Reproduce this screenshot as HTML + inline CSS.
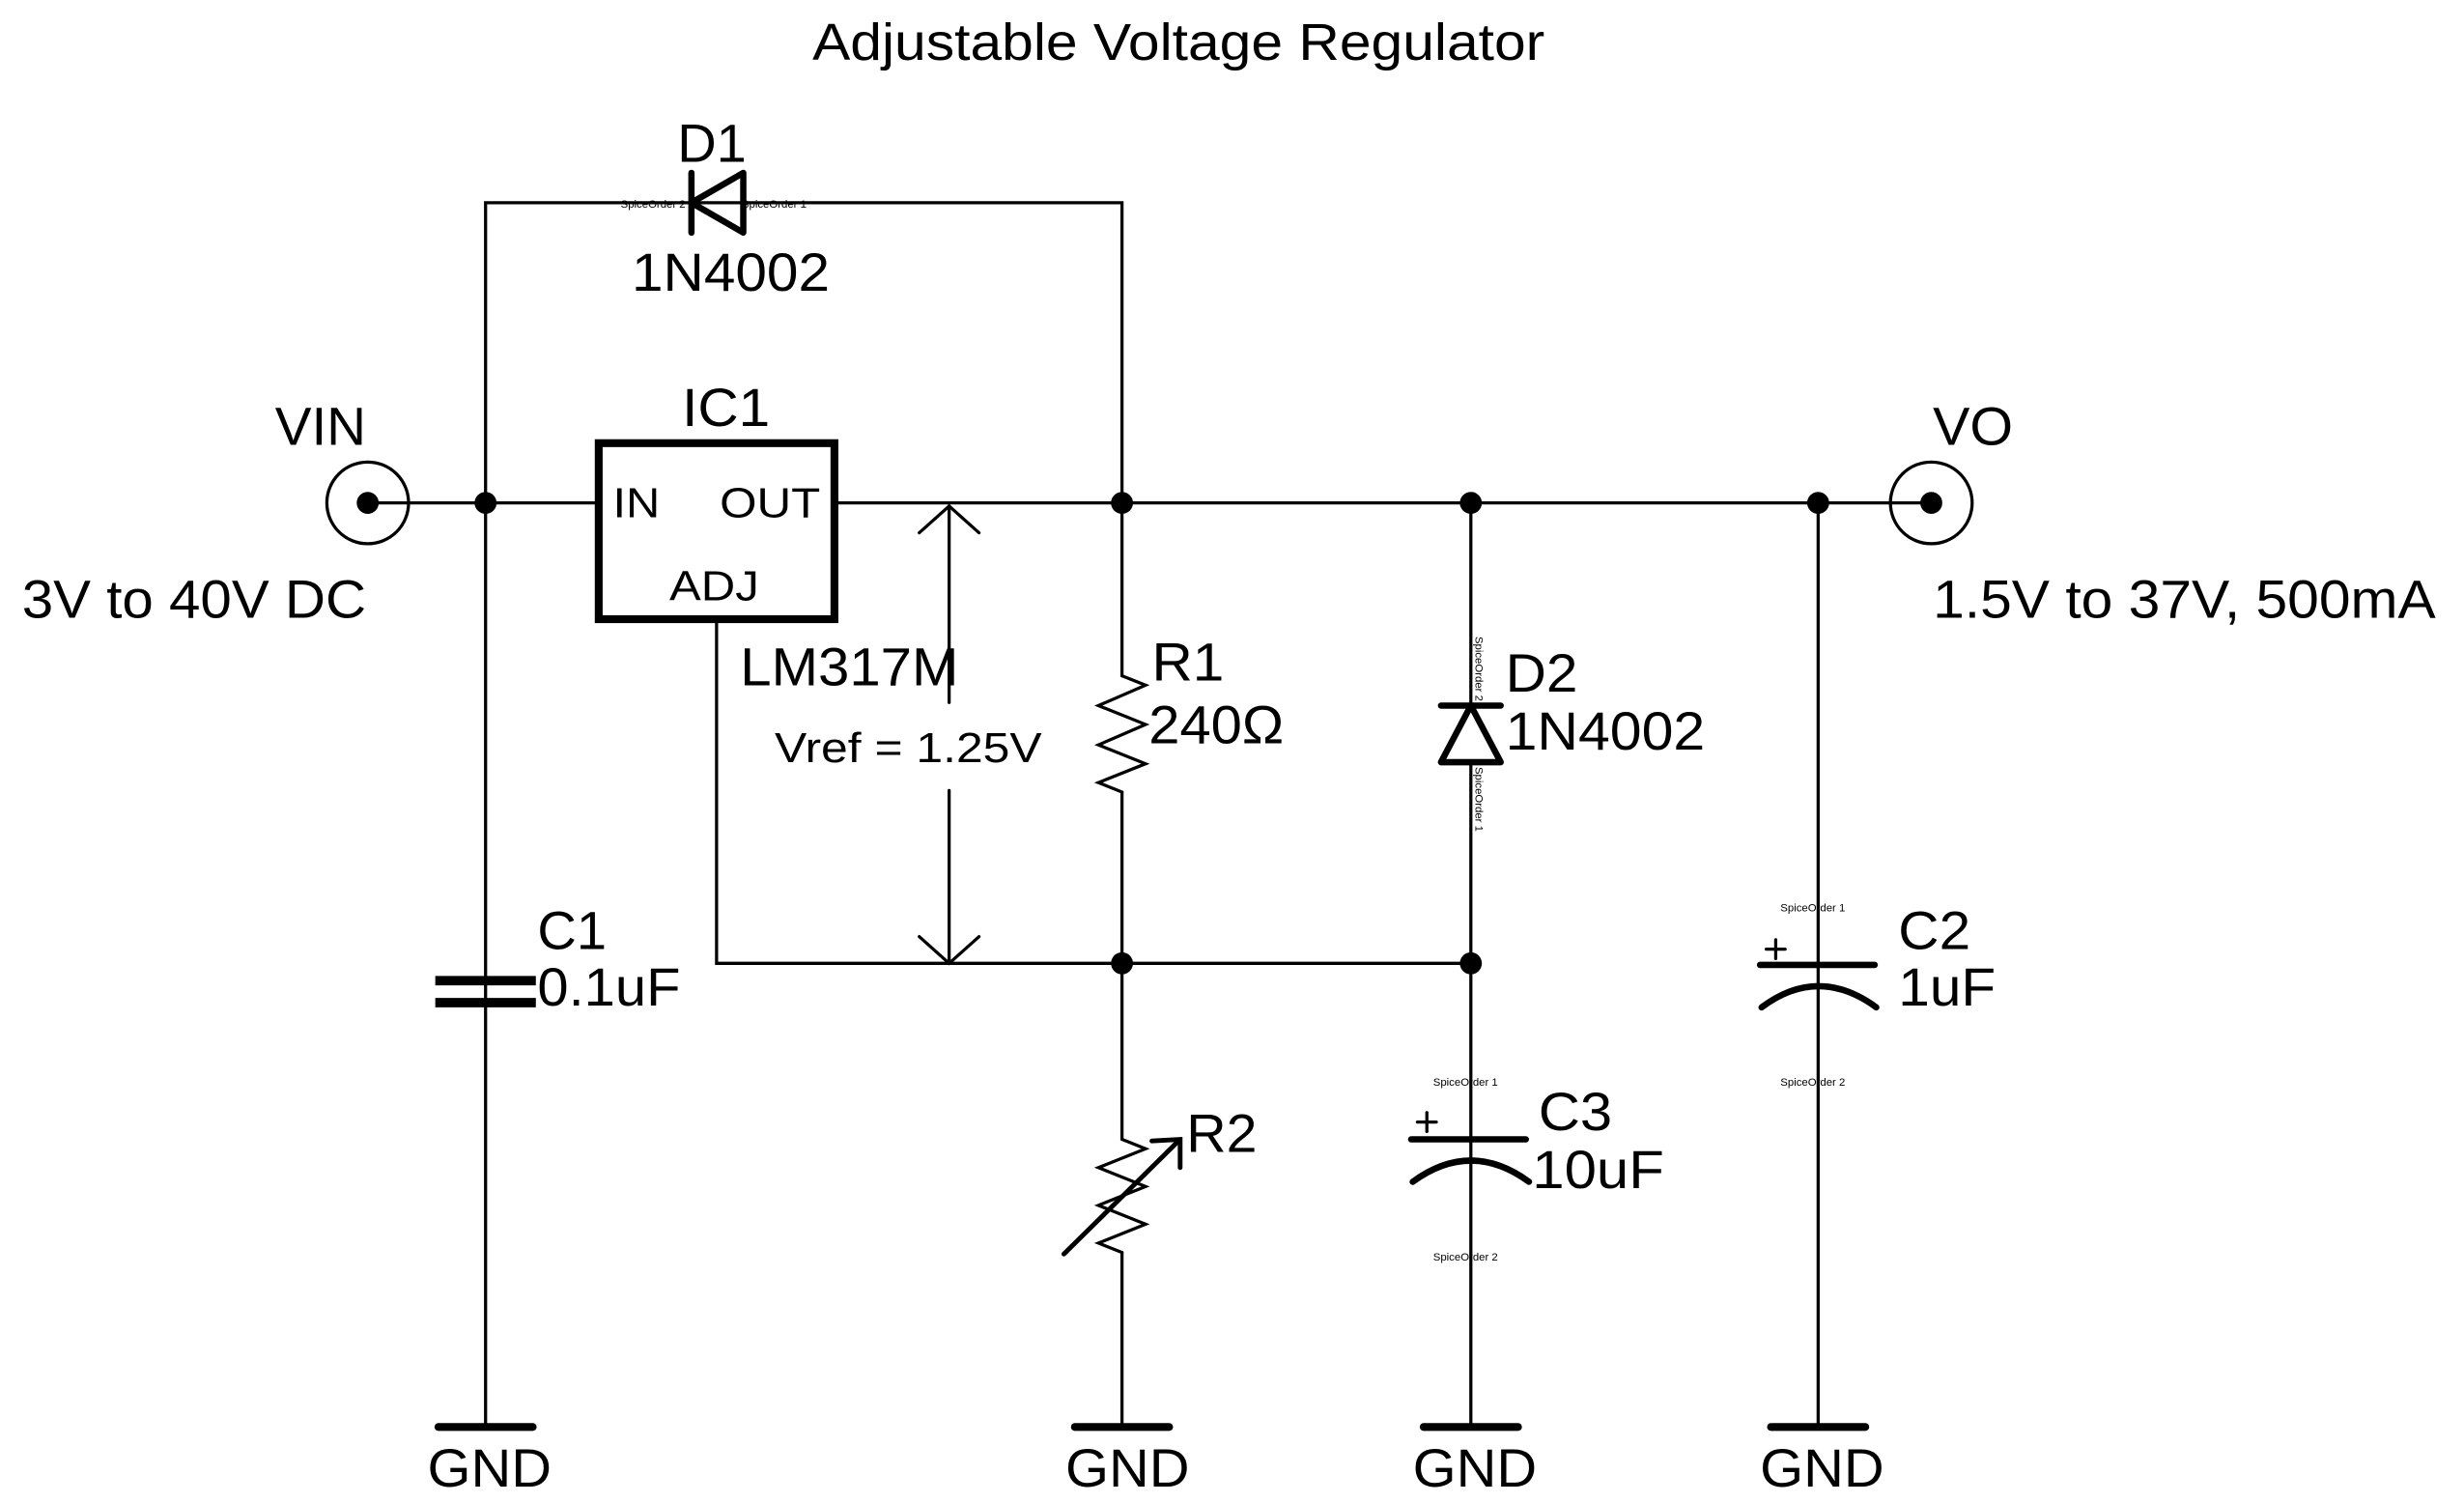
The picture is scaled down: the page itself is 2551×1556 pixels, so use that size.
<!DOCTYPE html>
<html><head><meta charset="utf-8"><style>
html,body{margin:0;padding:0;background:#fff;}
svg{display:block;}
text{font-family:"Liberation Sans",sans-serif;fill:#000;}
</style></head><body>
<svg width="2551" height="1556" viewBox="0 0 1568 956.4" preserveAspectRatio="none" xmlns="http://www.w3.org/2000/svg">
<g stroke="#000" stroke-width="2" fill="none" stroke-linecap="round">
<line x1="234" y1="320" x2="381" y2="320"/>
<line x1="531" y1="320" x2="1229" y2="320"/>
<polyline points="309,908 309,129 714,129 714,430"/>
<line x1="714" y1="504" x2="714" y2="725"/>
<line x1="714" y1="797" x2="714" y2="908"/>
<polyline points="456,395 456,613 936,613"/>
<line x1="936" y1="320" x2="936" y2="449"/>
<line x1="936" y1="485" x2="936" y2="908"/>
<line x1="1157" y1="320" x2="1157" y2="908"/>
<line x1="604" y1="322" x2="604" y2="447"/>
<line x1="604" y1="503" x2="604" y2="613"/>
<polyline points="585,339 604,322 623,339"/>
<polyline points="585,596 604,613 623,596"/>
<polyline points="714,430 729,436 699,449 729,461 699,474 729,486 699,498 714,504"/>
<polyline points="714,725 729,731 699,743 729,755 699,767 729,779 699,791 714,797"/>
</g>
<g stroke="#000" fill="none" stroke-linecap="round">
<line x1="677" y1="798" x2="750" y2="726" stroke-width="3"/>
<polyline points="733,726 751,725 751,743" stroke-width="3"/>
<rect x="381" y="282" width="150" height="112" stroke-width="5"/>
<circle cx="234" cy="320" r="26" stroke-width="2"/>
<circle cx="1229" cy="320" r="26" stroke-width="2"/>
<line x1="440" y1="110" x2="440" y2="148" stroke-width="4"/>
<polygon points="440,129 473,110 473,148" stroke-width="4" stroke-linejoin="round"/>
<line x1="917" y1="449" x2="955" y2="449" stroke-width="4"/>
<polygon points="936,449 917,485 955,485" stroke-width="4" stroke-linejoin="round"/>
<line x1="277" y1="624" x2="341" y2="624" stroke-width="6" stroke-linecap="butt"/>
<line x1="277" y1="638" x2="341" y2="638" stroke-width="6" stroke-linecap="butt"/>
<line x1="898" y1="725" x2="971" y2="725" stroke-width="4"/>
<path d="M899,752 Q936,725 973,752" stroke-width="4"/>
<line x1="902" y1="714" x2="914" y2="714" stroke-width="2"/>
<line x1="908" y1="708" x2="908" y2="720" stroke-width="2"/>
<line x1="1120" y1="614" x2="1193" y2="614" stroke-width="4"/>
<path d="M1121,641 Q1157,614 1194,641" stroke-width="4"/>
<line x1="1124" y1="604" x2="1136" y2="604" stroke-width="2"/>
<line x1="1130" y1="598" x2="1130" y2="610" stroke-width="2"/>
<line x1="279" y1="908" x2="339" y2="908" stroke-width="5"/>
<line x1="684" y1="908" x2="744" y2="908" stroke-width="5"/>
<line x1="906" y1="908" x2="966" y2="908" stroke-width="5"/>
<line x1="1127" y1="908" x2="1187" y2="908" stroke-width="5"/>
</g>
<g fill="#000">
<circle cx="234" cy="320" r="7"/>
<circle cx="1229" cy="320" r="7"/>
<circle cx="309" cy="320" r="7"/>
<circle cx="714" cy="320" r="7"/>
<circle cx="936" cy="320" r="7"/>
<circle cx="1157" cy="320" r="7"/>
<circle cx="714" cy="613" r="7"/>
<circle cx="936" cy="613" r="7"/>
</g>
<g font-size="34" lengthAdjust="spacingAndGlyphs">
<text x="517" y="38" font-size="33" textLength="466" lengthAdjust="spacingAndGlyphs">Adjustable Voltage Regulator</text>
<text x="431" y="103" textLength="44" lengthAdjust="spacingAndGlyphs">D1</text>
<text x="402" y="185" textLength="126" lengthAdjust="spacingAndGlyphs">1N4002</text>
<text x="434" y="271" textLength="56" lengthAdjust="spacingAndGlyphs">IC1</text>
<text x="175" y="283" textLength="58" lengthAdjust="spacingAndGlyphs">VIN</text>
<text x="1230" y="283" textLength="51" lengthAdjust="spacingAndGlyphs">VO</text>
<text x="14" y="393" textLength="219" lengthAdjust="spacingAndGlyphs">3V to 40V DC</text>
<text x="1230" y="393" textLength="320" lengthAdjust="spacingAndGlyphs">1.5V to 37V, 500mA</text>
<text x="471" y="436" textLength="139" lengthAdjust="spacingAndGlyphs">LM317M</text>
<text x="733" y="433" textLength="46" lengthAdjust="spacingAndGlyphs">R1</text>
<text x="731" y="473" textLength="86" lengthAdjust="spacingAndGlyphs">240Ω</text>
<text x="958" y="440" textLength="46" lengthAdjust="spacingAndGlyphs">D2</text>
<text x="958" y="477" textLength="127" lengthAdjust="spacingAndGlyphs">1N4002</text>
<text x="755" y="733" textLength="45" lengthAdjust="spacingAndGlyphs">R2</text>
<text x="342" y="604" textLength="44" lengthAdjust="spacingAndGlyphs">C1</text>
<text x="342" y="640" textLength="91" lengthAdjust="spacingAndGlyphs">0.1uF</text>
<text x="1208" y="604" textLength="46" lengthAdjust="spacingAndGlyphs">C2</text>
<text x="1208" y="640" textLength="62" lengthAdjust="spacingAndGlyphs">1uF</text>
<text x="979" y="719" textLength="47" lengthAdjust="spacingAndGlyphs">C3</text>
<text x="975" y="756" textLength="84" lengthAdjust="spacingAndGlyphs">10uF</text>
<text x="272" y="946" textLength="79" lengthAdjust="spacingAndGlyphs">GND</text>
<text x="678" y="946" textLength="79" lengthAdjust="spacingAndGlyphs">GND</text>
<text x="899" y="946" textLength="79" lengthAdjust="spacingAndGlyphs">GND</text>
<text x="1120" y="946" textLength="79" lengthAdjust="spacingAndGlyphs">GND</text>
</g>
<g font-size="27">
<text x="390" y="329" textLength="30" lengthAdjust="spacingAndGlyphs">IN</text>
<text x="458" y="329" textLength="64" lengthAdjust="spacingAndGlyphs">OUT</text>
<text x="426" y="382" textLength="57" lengthAdjust="spacingAndGlyphs">ADJ</text>
<text x="493" y="485" textLength="170" lengthAdjust="spacingAndGlyphs">Vref = 1.25V</text>
</g>
<g font-size="7">
<text x="395" y="132">SpiceOrder 2</text>
<text x="472" y="132">SpiceOrder 1</text>
<text x="1133" y="580">SpiceOrder 1</text>
<text x="1133" y="691">SpiceOrder 2</text>
<text x="912" y="691">SpiceOrder 1</text>
<text x="912" y="802">SpiceOrder 2</text>
<text transform="translate(939,405) rotate(90)">SpiceOrder 2</text>
<text transform="translate(939,488) rotate(90)">SpiceOrder 1</text>
</g>
</svg>
</body></html>
